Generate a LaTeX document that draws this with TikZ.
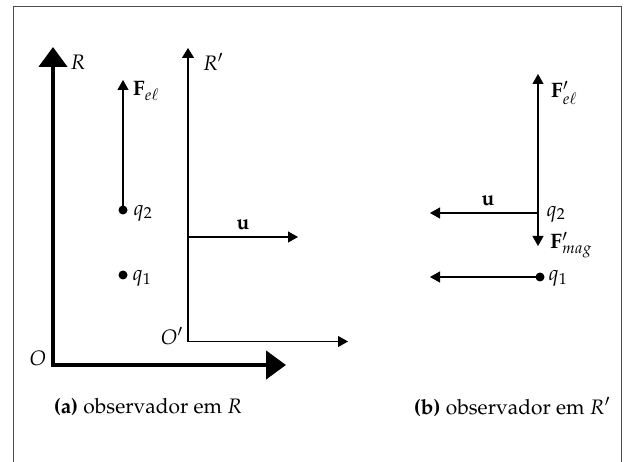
\documentclass[tikz,border=0pt]{standalone}
\usepackage[T1]{fontenc}
\usepackage{mathpazo}
\usetikzlibrary{arrows.meta}
\tikzset{
  vec/.style={line width=1.2bp, -{Triangle[width=11bp,length=10bp]}},
  axis/.style={line width=1.2bp},
  bigaxis/.style={line width=4.5bp, line join=miter,
    {Triangle[width=28bp,length=20bp]}-{Triangle[width=28bp,length=20bp]}},
  pt/.style={circle, fill, inner sep=0pt, minimum size=9bp},
  lbl/.style={inner sep=0pt, font=\fontsize{21}{25}\selectfont},
  frame/.style={draw=black!70, line width=1bp},
}
\begin{document}
\begin{tikzpicture}[x=1bp,y=-1bp]
\useasboundingbox (0,0) rectangle (626,462);
\draw[frame] (13.5,462) -- (13.5,6.5) -- (621.5,6.5) -- (621.5,462);

% ---- panel (a)
\coordinate (O) at (53,365);
\coordinate (Rtop) at (53,47);
\coordinate (Xend) at (286,365);
\draw[bigaxis] (Rtop) -- (O) -- (Xend);
\node[lbl] (Rlab) at (78,62) {$R$};
\node[lbl] (Olab) at (38,358) {$O$};

\coordinate (Op) at (188,341.5);
\coordinate (Rptop) at (188,48);
\coordinate (Xpend) at (348,341.5);
\draw[axis, -{Triangle[width=12bp,length=10bp]}] (Op) -- (Rptop);
\draw[vec] (Op) -- (Xpend);
\node[lbl] (Rplab) at (213,62) {$R'$};
\node[lbl] (Oplab) at (172,336) {$O'$};

\coordinate (us) at (188,237);
\coordinate (ue) at (298,237);
\draw[vec] (us) -- (ue);
\node[lbl] (ulab) at (243,225) {$\mathbf{u}$};

\node[pt] (q2) at (123,210) {};
\node[pt] (q1) at (123,275) {};
\coordinate (Fel) at (123,80);
\draw[vec] (q2.center) -- (Fel);
\node[lbl] (Fellab) at (146,91) {$\mathbf{F}_{e\ell}$};
\node[lbl] (q2lab) at (143,213) {$q_2$};
\node[lbl] (q1lab) at (142,278) {$q_1$};

\node[lbl] (capa) at (148,407) {\textbf{(a)} observador em $R$};

% ---- panel (b)
\coordinate (q2b) at (538,213);
\coordinate (Fpel) at (538,74);
\coordinate (Fmag) at (538,246);
\coordinate (ub) at (430,213);
\draw[vec] (q2b) -- (Fpel);
\draw[vec] (q2b) -- (Fmag);
\draw[vec] (q2b) -- (ub);
\node[lbl] (Fpellab) at (564,93) {$\mathbf{F}'_{e\ell}$};
\node[lbl] (Fmaglab) at (571,245) {$\mathbf{F}'_{mag}$};
\node[lbl] (ublab) at (488,201) {$\mathbf{u}$};
\node[lbl] (q2blab) at (556,214) {$q_2$};

\node[pt] (q1b) at (540,277) {};
\coordinate (q1e) at (430,277);
\draw[vec] (q1b.center) -- (q1e);
\node[lbl] (q1blab) at (558,278) {$q_1$};

\node[lbl] (capb) at (512,407) {\textbf{(b)} observador em $R'$};
\end{tikzpicture}
\end{document}
